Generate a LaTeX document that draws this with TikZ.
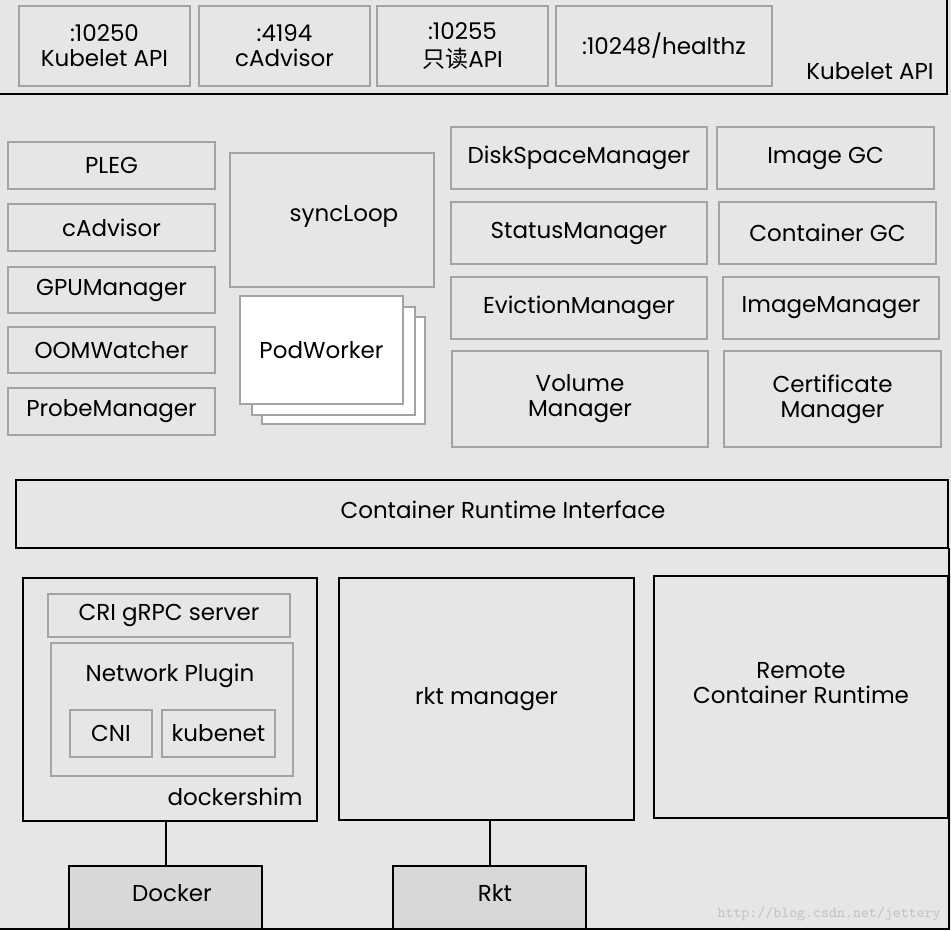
\documentclass[tikz,border=0pt]{standalone}
\usepackage{fontspec}
\setmainfont{Poppins}
\newfontfamily\cjk{Noto Sans CJK SC}
\usetikzlibrary{positioning}

\definecolor{bggray}{HTML}{E6E6E6}
\definecolor{linegray}{HTML}{A3A3A3}
\definecolor{darkfill}{HTML}{D8D8D8}
\definecolor{markgray}{HTML}{C4C4C4}

\tikzset{
    comp/.style={draw=linegray, line width=1pt, fill=bggray, inner sep=0pt, align=center,
        font=\fontsize{11.5}{12.5}\selectfont},
    runtime/.style={comp, draw=black},
    engine/.style={runtime, fill=darkfill},
    size/.style 2 args={minimum width=#1*0.5pt, minimum height=#2*0.5pt},
    plain/.style={align=center, inner sep=1pt, font=\fontsize{11.5}{12.5}\selectfont},
}

\begin{document}
\begin{tikzpicture}[x=0.5pt, y=-0.5pt]
    % Canvas
    \fill[bggray] (0,0) rectangle (951,930);
    \useasboundingbox (0,0) rectangle (951,930);

    % Kubelet API bar
    \draw[line width=1pt] (0,94) -- (947,94) -- (947,0);
    \node[comp, size={171}{80}] (port1) at (104.5,46) {:10250\\Kubelet API};
    \node[comp, size={171}{80}] (port2) at (284.5,46) {:4194\\cAdvisor};
    \node[comp, size={171}{80}] (port3) at (462.5,46) {:10255\\[1.5pt]{\cjk 只读}API};
    \node[comp, size={216}{80}] (port4) at (664,46) {:10248/healthz};
    \node[plain] (apilabel) at (870,71) {Kubelet API};

    % Left column
    \node[comp, size={207}{47}] (pleg) at (111.5,165.5) {PLEG};
    \node[comp, size={207}{47}] (cadvisor) at (111.5,227.5) {cAdvisor};
    \node[comp, size={207}{46}] (gpu) at (111.5,290) {GPUManager};
    \node[comp, size={207}{46}] (oom) at (111.5,350) {OOMWatcher};
    \node[comp, size={207}{47}] (probe) at (111.5,411.5) {ProbeManager};

    % syncLoop and PodWorker stack
    \node[comp, size={204}{134}] (syncloop) at (332,220) {};
    \node[plain] (synctext) at (344,216) {syncLoop};
    \node[comp, fill=white, size={163}{107}] (worker3) at (343.5,370.5) {};
    \node[comp, fill=white, size={163}{108}] (worker2) at (333.5,361) {};
    \node[comp, fill=white, size={163}{108}] (worker1) at (321.5,350) {PodWorker};

    % Managers
    \node[comp, size={256}{62}] (disk) at (579,158) {DiskSpaceManager};
    \node[comp, size={217}{62}] (imagegc) at (825.5,158) {Image GC};
    \node[comp, size={256}{62}] (status) at (579,233) {StatusManager};
    \node[comp, size={217}{62}] (containergc) at (827.5,233) {Container GC};
    \node[comp, size={256}{62}] (eviction) at (579,308) {EvictionManager};
    \node[comp, size={216}{62}] (imagemgr) at (831,308) {ImageManager};
    \node[comp, size={256}{96}] (volume) at (580,399) {Volume\\Manager};
    \node[comp, size={217}{96}] (cert) at (832.5,399) {Certificate\\Manager};

    % CRI
    \node[runtime, size={932}{68}] (cri) at (482,514) {};
    \node[plain] (critext) at (503,510) {Container Runtime Interface};

    % dockershim
    \node[runtime, size={294}{243}] (shim) at (170,699.5) {};
    \node[plain] (shimtext) at (235,797) {dockershim};
    \node[comp, size={242}{43}] (grpc) at (169,615.5) {CRI gRPC server};
    \node[comp, size={242}{133}] (netplugin) at (172,709.5) {};
    \node[plain] (nettext) at (170,676) {Network Plugin};
    \node[comp, size={82}{47}] (cni) at (111,733.5) {CNI};
    \node[comp, size={113}{47}] (kubenet) at (218.5,733.5) {kubenet};

    % Other runtimes
    \node[runtime, size={295}{242}] (rktmgr) at (486.5,699) {rkt manager};
    \node[runtime, size={294}{242}] (remote) at (801,697) {};
    \node[plain] (remotetext) at (801,683) {Remote\\Container Runtime};

    % Engines
    \node[engine, size={193}{63}] (docker) at (165.5,897.5) {};
    \node[plain] (dockertext) at (172,893) {Docker};
    \node[engine, size={193}{63}] (rkt) at (489.5,897.5) {};
    \node[plain] (rkttext) at (495,893) {Rkt};
    \draw[line width=1pt] (docker.north) -- (docker.north |- shim.south);
    \draw[line width=1pt] (rkt.north) -- (rkt.north |- rktmgr.south);
    \draw[line width=1pt] (0,929) -- (949,929) -- (949,548);

    \node[text=markgray, anchor=east, inner sep=0pt, font=\ttfamily\fontsize{7.5}{8}\selectfont] (mark) at (941,914) {http://blog.csdn.net/jettery};
\end{tikzpicture}
\end{document}
